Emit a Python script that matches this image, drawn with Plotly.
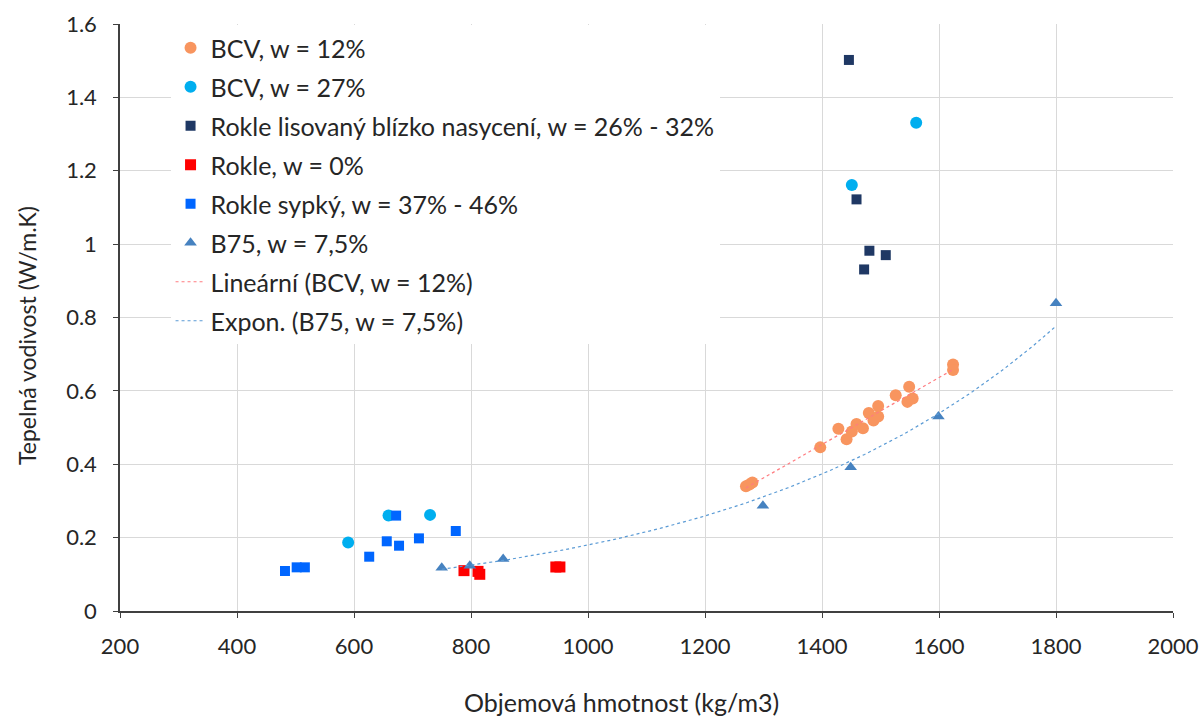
import numpy as np
import plotly.graph_objects as go

# BCV, w = 12 %
bcv12_x = [1270, 1276, 1281, 1397, 1428, 1442, 1451, 1459, 1470, 1480, 1488, 1496, 1496, 1526, 1546, 1549, 1555, 1624, 1624]
bcv12_y = [0.340, 0.345, 0.350, 0.446, 0.497, 0.468, 0.489, 0.510, 0.498, 0.540, 0.519, 0.530, 0.559, 0.588, 0.570, 0.611, 0.579, 0.672, 0.657]

# BCV, w = 27 %
bcv27_x = [590, 659, 730, 1451, 1561]
bcv27_y = [0.187, 0.260, 0.262, 1.161, 1.331]

# Rokle lisovaný blízko nasycení
rl_x = [1446, 1459, 1481, 1509, 1472]
rl_y = [1.502, 1.122, 0.982, 0.970, 0.931]

# Rokle, w = 0 %
r0_x = [788, 812, 815, 945, 952]
r0_y = [0.110, 0.108, 0.100, 0.120, 0.120]

# Rokle sypký
rs_x = [482, 502, 516, 626, 656, 672, 677, 711, 774]
rs_y = [0.109, 0.119, 0.119, 0.148, 0.190, 0.260, 0.178, 0.198, 0.218]

# B75, w = 7,5 %
b75_x = [750, 798, 855, 1299, 1449, 1599, 1800]
b75_y = [0.118, 0.123, 0.142, 0.287, 0.392, 0.530, 0.839]

x_ticks = [200, 400, 600, 800, 1000, 1200, 1400, 1600, 1800, 2000]
y_ticks = [0, 0.2, 0.4, 0.6, 0.8, 1.0, 1.2, 1.4, 1.6]
y_tick_text = ["0", "0.2", "0.4", "0.6", "0.8", "1", "1.2", "1.4", "1.6"]

FONT = "Lato"
TEXT = "#262626"

# Plot-area geometry in pixels
W, H = 1200, 718
L, R, T, B = 120, 27, 24, 107
PW, PH = W - L - R, H - T - B

# Trend lines: least-squares linear and exponential fits
lin_coef = np.polyfit(bcv12_x, bcv12_y, 1)
lin_x = np.linspace(min(bcv12_x), max(bcv12_x), 50)
lin_y = np.polyval(lin_coef, lin_x)

exp_coef = np.polyfit(b75_x, np.log(b75_y), 1)
exp_x = np.linspace(min(b75_x), max(b75_x), 200)
exp_y = np.exp(np.polyval(exp_coef, exp_x))

fig = go.Figure()

def scatter(x, y, name, color, symbol, size, grp):
    fig.add_trace(go.Scatter(
        x=x, y=y, mode="markers", name=name, legendgroup=grp,
        marker=dict(color=color, symbol=symbol, size=size, line=dict(width=0)),
    ))

scatter(bcv12_x, bcv12_y, "BCV, w = 12%", "#F8955F", "circle", 12, "a")
scatter(bcv27_x, bcv27_y, "BCV, w = 27%", "#00AEEF", "circle", 12, "b")
scatter(rl_x, rl_y, "Rokle lisovaný blízko nasycení, w = 26% - 32%", "#1F3864", "square", 10, "c")
scatter(r0_x, r0_y, "Rokle, w = 0%", "#FF0000", "square", 11, "d")
scatter(rs_x, rs_y, "Rokle sypký, w = 37% - 46%", "#0066FF", "square", 10, "e")
scatter(b75_x, b75_y, "B75, w = 7,5%", "#4682C0", "triangle-up", 11, "f")

fig.add_trace(go.Scatter(
    x=lin_x, y=lin_y, mode="lines", name="Lineární (BCV, w = 12%)", legendgroup="g",
    line=dict(color="#FF7C80", width=1.2, dash="dot"),
))
fig.add_trace(go.Scatter(
    x=exp_x, y=exp_y, mode="lines", name="Expon. (B75, w = 7,5%)", legendgroup="h",
    line=dict(color="#5B9BD5", width=1.2, dash="dot"),
))

fig.update_layout(
    width=W, height=H,
    margin=dict(l=L, r=R, t=T, b=B, autoexpand=False),
    paper_bgcolor="white", plot_bgcolor="white",
    font=dict(family=FONT, size=22, color=TEXT),
    legend=dict(
        x=0.048, y=(H - B - 25) / PH, xanchor="left", yanchor="top",
        bgcolor="white", font=dict(family=FONT, size=25, color=TEXT),
        tracegroupgap=3.5, itemwidth=30,
    ),
    xaxis=dict(
        range=[200, 2000], tickvals=x_ticks, automargin=False,
        showgrid=True, gridcolor="#D9D9D9", gridwidth=1,
        showline=True, linecolor="#404040", linewidth=1.5,
        ticks="outside", ticklen=5, tickcolor="#404040",
        zeroline=False, tickfont=dict(size=22, color=TEXT),
        ticklabelstandoff=10,
    ),
    yaxis=dict(
        range=[0, 1.6], tickvals=y_ticks, ticktext=y_tick_text, automargin=False,
        showgrid=True, gridcolor="#D9D9D9", gridwidth=1,
        showline=True, linecolor="#404040", linewidth=1.5,
        ticks="outside", ticklen=5, tickcolor="#404040",
        zeroline=False, tickfont=dict(size=22, color=TEXT),
        ticklabelstandoff=12,
    ),
    annotations=[
        dict(text="Objemová hmotnost (kg/m3)", xref="paper", yref="paper",
             x=(621 - L) / PW, y=-(702 - (H - B)) / PH, xanchor="center", yanchor="middle",
             showarrow=False, font=dict(family=FONT, size=25, color=TEXT)),
        dict(text="Tepelná vodivost (W/m.K)", xref="paper", yref="paper",
             x=-(L - 27) / PW, y=((H - B) - 336) / PH, xanchor="center", yanchor="middle",
             textangle=-90, showarrow=False, font=dict(family=FONT, size=23, color=TEXT)),
    ],
)

fig.write_html("out.html")
